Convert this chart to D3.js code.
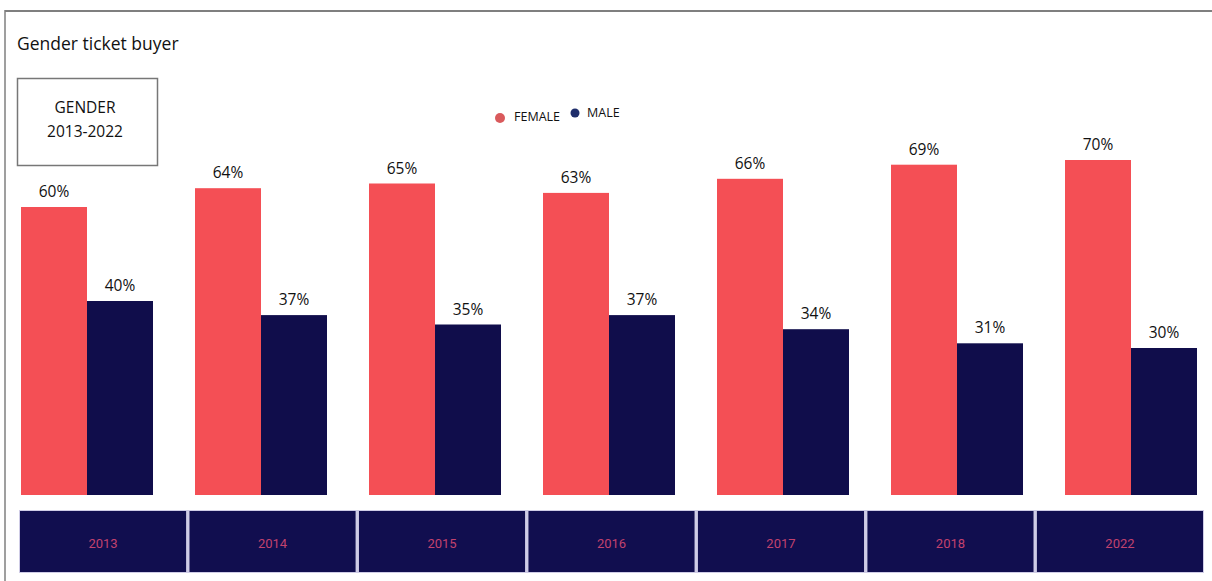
<!DOCTYPE html>
<html>
<head>
<meta charset="utf-8">
<script src="https://cdn.jsdelivr.net/npm/d3@7"></script>
<style>
  html, body { margin: 0; padding: 0; background: #fff; }
  svg { display: block; }
</style>
</head>
<body>
<svg id="chart" width="1212" height="581"></svg>
<script>
// Ticket buyers by gender, share per year (%)
const years = ["2013", "2014", "2015", "2016", "2017", "2018", "2022"];
const femaleShare = [60, 64, 65, 63, 66, 69, 70];
const maleShare = [40, 37, 35, 37, 34, 31, 30];
const seriesNames = ["FEMALE", "MALE"];

const W = 1212, H = 581;
const FONT = "'Open Sans', 'Noto Sans', sans-serif";
const C_FEMALE = "#f44f55";
const C_MALE = "#100d4b";

const svg = d3.select("#chart");

// frame: top rule and left rule
svg.append("line").attr("x1", 5).attr("x2", W).attr("y1", 11).attr("y2", 11)
  .attr("stroke", "#7f7f7f").attr("stroke-width", 2);
svg.append("line").attr("x1", 5).attr("x2", 5).attr("y1", 10).attr("y2", H)
  .attr("stroke", "#7f7f7f").attr("stroke-width", 1.5);

// title
svg.append("text").attr("x", 17).attr("y", 50)
  .attr("font-family", FONT).attr("font-size", 17.5).attr("fill", "#111")
  .text("Gender ticket buyer");

// caption box
svg.append("rect").attr("x", 17.5).attr("y", 78.5).attr("width", 140).attr("height", 87)
  .attr("fill", "#fff").attr("stroke", "#777").attr("stroke-width", 1.5);
const cap = svg.append("text").attr("font-family", FONT).attr("font-size", 15.5)
  .attr("fill", "#111").attr("text-anchor", "middle");
cap.append("tspan").attr("x", 85).attr("y", 113).text("GENDER");
cap.append("tspan").attr("x", 85).attr("y", 137).text("2013-2022");

// legend
const legend = svg.append("g").attr("font-family", FONT).attr("font-size", 12.5).attr("fill", "#111");
const legendItems = [
  { name: seriesNames[0], cx: 500, cy: 118, tx: 514, ty: 121, color: "#d95a5c", r: 5 },
  { name: seriesNames[1], cx: 575, cy: 113, tx: 587, ty: 117, color: "#1f2e6b", r: 4.5 }
];
legendItems.forEach(d => {
  legend.append("circle").attr("cx", d.cx).attr("cy", d.cy).attr("r", d.r).attr("fill", d.color);
  legend.append("text").attr("x", d.tx).attr("y", d.ty).text(d.name);
});

// scales
const x0 = d3.scaleBand().domain(years).range([21, 1197]).paddingInner(42 / 174).paddingOuter(0);
const x1 = d3.scaleBand().domain(seriesNames).range([0, x0.bandwidth()]).padding(0);
const y = d3.scaleLinear().domain([0, 100]).range([489, 19]);
const baseY = 495;

const rows = years.map((yr, i) => ({ year: yr, values: [femaleShare[i], maleShare[i]] }));

const groups = svg.append("g").selectAll("g").data(rows).join("g")
  .attr("transform", d => `translate(${x0(d.year)},0)`);

groups.selectAll("rect").data(d => d.values.map((v, k) => ({ key: seriesNames[k], v })))
  .join("rect")
  .attr("x", d => x1(d.key))
  .attr("y", d => y(d.v))
  .attr("width", x1.bandwidth())
  .attr("height", d => baseY - y(d.v))
  .attr("fill", d => d.key === "FEMALE" ? C_FEMALE : C_MALE);

groups.selectAll("text").data(d => d.values.map((v, k) => ({ key: seriesNames[k], v })))
  .join("text")
  .attr("x", d => x1(d.key) + x1.bandwidth() / 2)
  .attr("y", d => y(d.v) - 10)
  .attr("text-anchor", "middle")
  .attr("font-family", FONT).attr("font-size", 15.5).attr("fill", "#111")
  .text(d => d.v + "%");

// year strip along the bottom
const xs = d3.scaleBand().domain(years).range([20, 1203]).paddingInner(0.02).paddingOuter(0);
const strip = svg.append("g");
strip.append("rect").attr("x", 19).attr("y", 510).attr("width", 1185).attr("height", 63)
  .attr("fill", "#cfcce6");
strip.selectAll("rect.cell").data(years).join("rect").attr("class", "cell")
  .attr("x", d => xs(d)).attr("y", 511).attr("width", xs.bandwidth()).attr("height", 61)
  .attr("fill", "#110e4f");
strip.selectAll("text").data(years).join("text")
  .attr("x", d => xs(d) + xs.bandwidth() / 2).attr("y", 548)
  .attr("text-anchor", "middle")
  .attr("font-family", "'Liberation Sans Narrow', 'Roboto', sans-serif")
  .attr("font-size", 13).attr("fill", "#c2426e")
  .text(d => d);
</script>
</body>
</html>
